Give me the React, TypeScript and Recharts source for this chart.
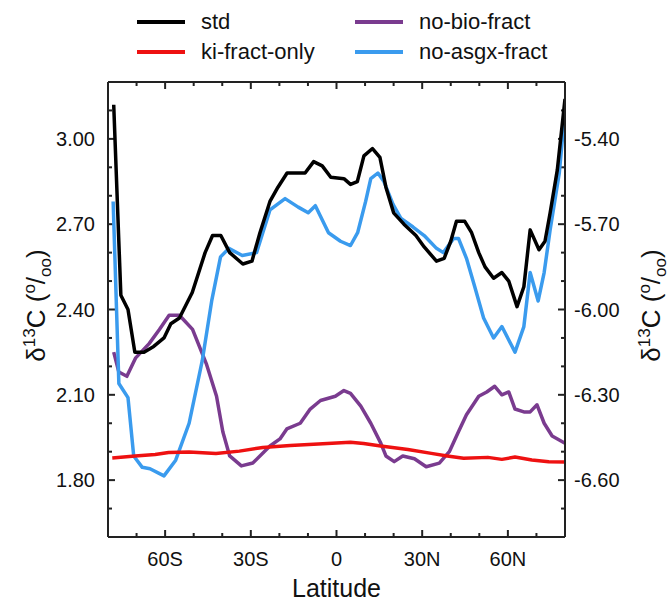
import React from "react";
import { Label, Line, LineChart, ReferenceLine, XAxis, YAxis } from "recharts";

// latitude (deg, S negative) and d13C values, one pair of arrays per run
const latStd = [-78, -75.5, -73, -70.6, -67.4, -64, -60.4, -58, -55, -50.5, -46, -43.4, -40.5, -37.4, -32.8, -29.6, -26.8, -23.3, -20.5, -17.3, -11, -8, -5, -2, 2.6, 4.9, 7.3, 9.6, 12.6, 15.2, 17.3, 20, 23.6, 27.8, 30.7, 35, 37.7, 40, 42, 44.9, 47.3, 49.8, 52, 55, 57.9, 60.3, 63.2, 65.6, 67.8, 70.9, 73, 74.8, 77.3, 80];
const std = [3.12, 2.45, 2.4, 2.25, 2.25, 2.27, 2.3, 2.35, 2.37, 2.46, 2.6, 2.66, 2.66, 2.6, 2.56, 2.57, 2.67, 2.78, 2.83, 2.88, 2.88, 2.92, 2.905, 2.865, 2.86, 2.84, 2.85, 2.94, 2.966, 2.935, 2.83, 2.74, 2.7, 2.66, 2.62, 2.57, 2.58, 2.64, 2.71, 2.71, 2.67, 2.6, 2.55, 2.51, 2.53, 2.5, 2.41, 2.48, 2.68, 2.61, 2.64, 2.74, 2.89, 3.14];

const latKi = [-78.5, -70.5, -63.5, -58.8, -51.6, -42.2, -34, -25.8, -16.2, -8, 4.9, 9.5, 15.5, 25, 33.2, 38.8, 44.5, 53, 57.9, 62.5, 68.4, 74.3, 80];
const kiFractOnly = [1.878, 1.885, 1.89, 1.897, 1.899, 1.894, 1.902, 1.915, 1.922, 1.926, 1.933, 1.929, 1.92, 1.908, 1.894, 1.885, 1.877, 1.88, 1.873, 1.881, 1.871, 1.865, 1.864];

const latBio = [-78, -76.2, -73.4, -70.3, -65.6, -62, -58.6, -55, -50.4, -45.6, -42, -39.8, -37.4, -33.3, -29.3, -23.3, -19.8, -17.4, -12.7, -9.2, -5.6, -0.4, 2.6, 4.9, 8.5, 12, 15.5, 17.3, 20.2, 23.2, 27.3, 31.4, 36, 39.5, 42.7, 45.5, 49.8, 52.6, 55.4, 57.9, 60.3, 62.5, 65.6, 67.8, 70.2, 72.7, 75.5, 80];
const noBioFract = [2.25, 2.18, 2.165, 2.23, 2.28, 2.33, 2.38, 2.38, 2.33, 2.21, 2.095, 1.97, 1.885, 1.85, 1.86, 1.92, 1.945, 1.98, 2.0, 2.05, 2.08, 2.095, 2.115, 2.105, 2.06, 2.0, 1.93, 1.885, 1.865, 1.885, 1.875, 1.847, 1.86, 1.9, 1.97, 2.03, 2.095, 2.11, 2.13, 2.1, 2.11, 2.05, 2.04, 2.04, 2.065, 2.0, 1.955, 1.93];

const latAsgx = [-78.2, -76.2, -73, -71, -68, -65.3, -60.4, -56.3, -51.6, -47, -43.7, -40.6, -37.7, -33, -28, -23.3, -18, -13.4, -9.9, -7.4, -2.8, 1.4, 4.9, 7.4, 10.2, 12, 14.5, 16.6, 19.8, 22.6, 26.8, 30.7, 35, 37.4, 41, 42.7, 45.5, 48.4, 51.5, 55, 57.9, 62.5, 65.6, 67.8, 70.6, 72.7, 74.8, 78, 80];
const noAsgxFract = [2.78, 2.14, 2.09, 1.885, 1.845, 1.84, 1.815, 1.87, 2.0, 2.22, 2.43, 2.585, 2.615, 2.59, 2.6, 2.75, 2.79, 2.76, 2.74, 2.765, 2.67, 2.64, 2.625, 2.67, 2.78, 2.86, 2.88, 2.85, 2.77, 2.72, 2.69, 2.66, 2.615, 2.6, 2.65, 2.65, 2.58, 2.48, 2.37, 2.3, 2.34, 2.25, 2.34, 2.53, 2.43, 2.53, 2.68, 2.88, 3.1];

// labelled ticks, plus the unlabelled minor ones
const latTicks = [-60, -30, 0, 30, 60];
const latMinor = [-70, -50, -40, -20, -10, 10, 20, 40, 50, 70];
const leftTicks = [1.8, 2.1, 2.4, 2.7, 3.0];
const leftMinor = [1.7, 1.9, 2.0, 2.2, 2.3, 2.5, 2.6, 2.8, 2.9, 3.1];
const rightTicks = [-6.6, -6.3, -6.0, -5.7, -5.4];
const rightMinor = [-6.7, -6.5, -6.4, -6.2, -6.1, -5.9, -5.8, -5.6, -5.5, -5.3];

const LAT = [-80, 80];
const LEFT = [1.6, 3.2];
const RIGHT = [-6.8, -5.2];

const toRows = (lat: number[], v: number[]) => lat.map((l, i) => ({ lat: l, v: v[i] }));

const series = [
  { name: "no-bio-fract", color: "#7a3b8f", data: toRows(latBio, noBioFract) },
  { name: "no-asgx-fract", color: "#3a9bee", data: toRows(latAsgx, noAsgxFract) },
  { name: "std", color: "#000000", data: toRows(latStd, std) },
  { name: "ki-fract-only", color: "#ee1111", data: toRows(latKi, kiFractOnly) },
];

const legendRows = [
  { name: "std", color: "#000000", x: 137, y: 22 },
  { name: "ki-fract-only", color: "#ee1111", x: 137, y: 52 },
  { name: "no-bio-fract", color: "#7a3b8f", x: 355, y: 22 },
  { name: "no-asgx-fract", color: "#3a9bee", x: 355, y: 52 },
];

const FONT = "'Liberation Sans', Arial, Helvetica, sans-serif";
const AXIS = "#222";

// plot box is 457 x 455 px; tick lengths (7 px major, 4 px minor) in axis units
const W = 457;
const H = 455;
const xLen = (px: number) => (px * (LAT[1] - LAT[0])) / W;
const yLen = (px: number) => (px * (LEFT[1] - LEFT[0])) / H;

const fmtLat = (v: number) => (v === 0 ? "0" : v < 0 ? `${-v}S` : `${v}N`);
const fix2 = (v: number) => v.toFixed(2);

function TickLabel(props: any) {
  const { x, y, payload, side, fmt } = props;
  const anchor = side === "bottom" ? "middle" : side === "left" ? "end" : "start";
  const dy = side === "bottom" ? "0.71em" : "0.355em";
  return (
    <text x={x} y={y} dy={dy} textAnchor={anchor} fontSize={20} fontFamily={FONT} fill="#111">
      {fmt(payload.value)}
    </text>
  );
}

function YTitle(props: any) {
  const { viewBox, dx } = props;
  const cx = viewBox.x + dx;
  const cy = viewBox.y + viewBox.height / 2 - 4;
  return (
    <text
      transform={`translate(${cx},${cy}) rotate(-90)`}
      textAnchor="middle"
      fontSize={26}
      fontFamily={FONT}
      fill="#111"
    >
      δ<tspan dy={-10} fontSize={17}>13</tspan>
      <tspan dy={10}>C (</tspan>
      <tspan dy={-10} fontSize={17}>o</tspan>
      <tspan dy={10}>/</tspan>
      <tspan dy={6} fontSize={17}>oo</tspan>
      <tspan dy={-6}>)</tspan>
    </text>
  );
}

// inward tick marks on all four sides of the frame
function tickMarks() {
  const marks: any[] = [];
  const tk = { stroke: AXIS, strokeWidth: 2, ifOverflow: "visible" as const };
  [...latTicks.map((v) => [v, 7]), ...latMinor.map((v) => [v, 4])].forEach(([v, px]) => {
    marks.push(<ReferenceLine key={`b${v}`} xAxisId="xb" yAxisId="yl" segment={[{ x: v, y: LEFT[0] }, { x: v, y: LEFT[0] + yLen(px) }]} {...tk} />);
    marks.push(<ReferenceLine key={`t${v}`} xAxisId="xb" yAxisId="yl" segment={[{ x: v, y: LEFT[1] }, { x: v, y: LEFT[1] - yLen(px) }]} {...tk} />);
  });
  [...leftTicks.map((v) => [v, 7]), ...leftMinor.map((v) => [v, 4])].forEach(([v, px]) => {
    marks.push(<ReferenceLine key={`l${v}`} xAxisId="xb" yAxisId="yl" segment={[{ x: LAT[0], y: v }, { x: LAT[0] + xLen(px), y: v }]} {...tk} />);
  });
  [...rightTicks.map((v) => [v, 7]), ...rightMinor.map((v) => [v, 4])].forEach(([v, px]) => {
    marks.push(<ReferenceLine key={`r${v}`} xAxisId="xb" yAxisId="yr" segment={[{ x: LAT[1], y: v }, { x: LAT[1] - xLen(px), y: v }]} {...tk} />);
  });
  return marks;
}

export default function App() {
  const axisLine = { stroke: AXIS, strokeWidth: 2 };
  return (
    <div style={{ position: "absolute", left: 0, top: 0, width: 670, height: 601, background: "#fff" }}>
      {legendRows.map((r) => (
        <div key={r.name} style={{ position: "absolute", left: r.x, top: r.y - 14, height: 28, display: "flex", alignItems: "center" }}>
          <div style={{ width: 48, height: 4, background: r.color }} />
          <span style={{ marginLeft: 16, fontSize: 22, fontFamily: FONT, color: "#111" }}>{r.name}</span>
        </div>
      ))}
      <LineChart width={670} height={601} margin={{ top: 81, right: 104, bottom: 63, left: 107 }}>
        <XAxis xAxisId="xb" type="number" dataKey="lat" domain={LAT} allowDataOverflow ticks={latTicks} interval={0} height={1} tickSize={0} tickMargin={15} tickLine={false} axisLine={axisLine}
          tick={<TickLabel side="bottom" fmt={fmtLat} />}>
          <Label content={(p: any) => (
            <text x={p.viewBox.x + p.viewBox.width / 2} y={p.viewBox.y + 60} textAnchor="middle" fontSize={25} fontFamily={FONT} fill="#111">Latitude</text>
          )} />
        </XAxis>
        <XAxis xAxisId="xt" orientation="top" type="number" dataKey="lat" domain={LAT} allowDataOverflow ticks={latTicks} height={1} tick={false} tickLine={false} axisLine={axisLine} />

        <YAxis yAxisId="yl" type="number" domain={LEFT} allowDataOverflow ticks={leftTicks} interval={0} width={1} tickSize={0} tickMargin={13} tickLine={false} axisLine={axisLine}
          tick={<TickLabel side="left" fmt={fix2} />}>
          <Label content={(p: any) => <YTitle viewBox={p.viewBox} dx={-62} />} />
        </YAxis>
        <YAxis yAxisId="yr" orientation="right" type="number" domain={RIGHT} allowDataOverflow ticks={rightTicks} interval={0} width={1} tickSize={0} tickMargin={9} tickLine={false} axisLine={axisLine}
          tick={<TickLabel side="right" fmt={fix2} />}>
          <Label content={(p: any) => <YTitle viewBox={p.viewBox} dx={95} />} />
        </YAxis>

        {tickMarks()}

        {series.map((s) => (
          <Line
            key={s.name}
            data={s.data}
            dataKey="v"
            name={s.name}
            xAxisId="xb"
            yAxisId="yl"
            type="linear"
            stroke={s.color}
            strokeWidth={3.5}
            strokeLinejoin="round"
            dot={false}
            activeDot={false}
            isAnimationActive={false}
          />
        ))}
      </LineChart>
    </div>
  );
}
